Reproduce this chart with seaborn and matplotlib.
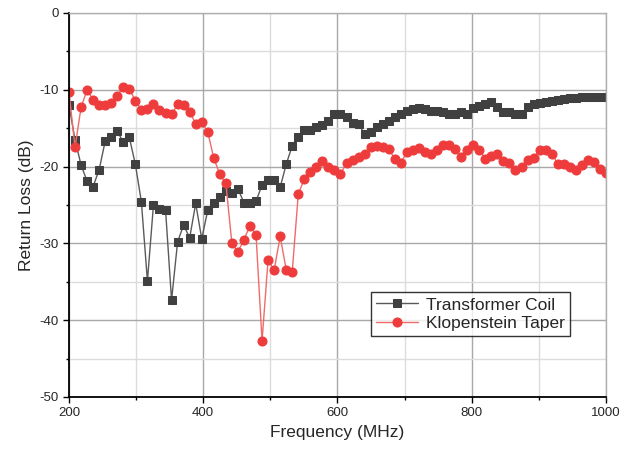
import numpy as np
import pandas as pd
import matplotlib
matplotlib.use("Agg")
import matplotlib.pyplot as plt
import seaborn as sns
from matplotlib.ticker import MultipleLocator

# frequency sweep, 90 samples from 200 to 1000 MHz
freq = np.linspace(200, 1000, 90)

transformer_coil = [
    -12.0, -16.5, -19.8, -21.9, -22.6, -20.4, -16.7, -16.2, -15.4, -16.8,
    -16.2, -19.7, -24.6, -34.9, -25.0, -25.5, -25.6, -37.4, -29.8, -27.6,
    -29.3, -24.8, -29.4, -25.7, -24.8, -24.0, -23.2, -23.4, -22.9, -24.7,
    -24.8, -24.5, -22.4, -21.8, -21.8, -22.7, -19.7, -17.3, -16.2, -15.2,
    -15.2, -14.9, -14.6, -14.1, -13.2, -13.2, -13.5, -14.3, -14.4, -15.8,
    -15.5, -14.9, -14.4, -14.0, -13.5, -13.2, -12.8, -12.5, -12.4, -12.5,
    -12.7, -12.8, -12.9, -13.2, -13.2, -12.9, -13.1, -12.4, -12.1, -11.8,
    -11.6, -12.2, -12.9, -12.9, -13.1, -13.2, -12.2, -11.8, -11.7, -11.6,
    -11.5, -11.3, -11.2, -11.1, -11.1, -11.0, -11.0, -10.9, -10.9, -11.0,
]

klopenstein_taper = [
    -10.3, -17.5, -12.3, -10.0, -11.3, -12.0, -12.0, -11.7, -10.8, -9.6,
    -9.9, -11.4, -12.6, -12.5, -11.9, -12.6, -13.0, -13.2, -11.9, -12.0,
    -12.9, -14.4, -14.2, -15.5, -18.9, -21.0, -22.2, -30.0, -31.1, -29.5,
    -27.7, -28.9, -42.7, -32.1, -33.5, -29.1, -33.4, -33.7, -23.6, -21.6,
    -20.7, -20.0, -19.3, -20.1, -20.5, -21.0, -19.5, -19.2, -18.7, -18.3,
    -17.4, -17.3, -17.4, -17.7, -19.0, -19.5, -18.1, -17.9, -17.6, -18.1,
    -18.4, -17.8, -17.2, -17.2, -17.7, -18.8, -17.8, -17.2, -17.8, -19.0,
    -18.6, -18.4, -19.3, -19.5, -20.5, -20.1, -19.1, -18.9, -17.8, -17.8,
    -18.3, -19.6, -19.6, -20.1, -20.4, -19.8, -19.1, -19.4, -20.3, -20.9,
]

df = pd.DataFrame({"Frequency": freq,
                   "Transformer Coil": transformer_coil,
                   "Klopenstein Taper": klopenstein_taper})

sns.set_style("white")
plt.rcParams['font.family'] = ['Liberation Sans', 'DejaVu Sans']
plt.rcParams['axes.unicode_minus'] = False

fig = plt.figure(figsize=(6.37, 4.57), dpi=100)
ax = fig.add_axes([0.1083, 0.1313, 0.843, 0.8403])

sns.lineplot(data=df, x="Frequency", y="Transformer Coil", ax=ax,
             color="#5a5a5a", linewidth=1.0, marker="s", markersize=5.5,
             markerfacecolor="#404040", markeredgecolor="#404040",
             label="Transformer Coil")
sns.lineplot(data=df, x="Frequency", y="Klopenstein Taper", ax=ax,
             color="#f06a6a", linewidth=1.0, marker="o", markersize=6.5,
             markerfacecolor="#ee3b3b", markeredgecolor="#ee3b3b",
             label="Klopenstein Taper")

ax.set_xlim(200, 1000)
ax.set_ylim(-50, 0)
ax.xaxis.set_major_locator(MultipleLocator(200))
ax.xaxis.set_minor_locator(MultipleLocator(100))
ax.yaxis.set_major_locator(MultipleLocator(10))
ax.yaxis.set_minor_locator(MultipleLocator(5))

ax.grid(True, which="major", color="#a8a8a8", linewidth=1.0)
ax.grid(True, which="minor", color="#dcdcdc", linewidth=1.0)
ax.set_axisbelow(True)

ax.tick_params(which="major", direction="out", length=4, width=1,
               labelsize=9.5, bottom=True, left=True, color="black")
ax.tick_params(which="minor", direction="out", length=2.5, width=1,
               bottom=True, left=True, color="black")

for side in ["left", "bottom"]:
    ax.spines[side].set_color("black")
    ax.spines[side].set_linewidth(1.3)
for side in ["top", "right"]:
    ax.spines[side].set_color("#b0b0b0")
    ax.spines[side].set_linewidth(1.0)

ax.set_xlabel("Frequency (MHz)", fontsize=12.5)
ax.set_ylabel("Return Loss (dB)", fontsize=12.5)

leg = ax.legend(loc="upper left", bbox_to_anchor=(0.562, 0.273),
                borderaxespad=0, fontsize=12.5, frameon=True, fancybox=False,
                handlelength=2.4, handletextpad=0.5, borderpad=0.3,
                labelspacing=0.2)
leg.get_frame().set_edgecolor("black")
leg.get_frame().set_linewidth(1.0)

fig.savefig("out.png", dpi=100)
